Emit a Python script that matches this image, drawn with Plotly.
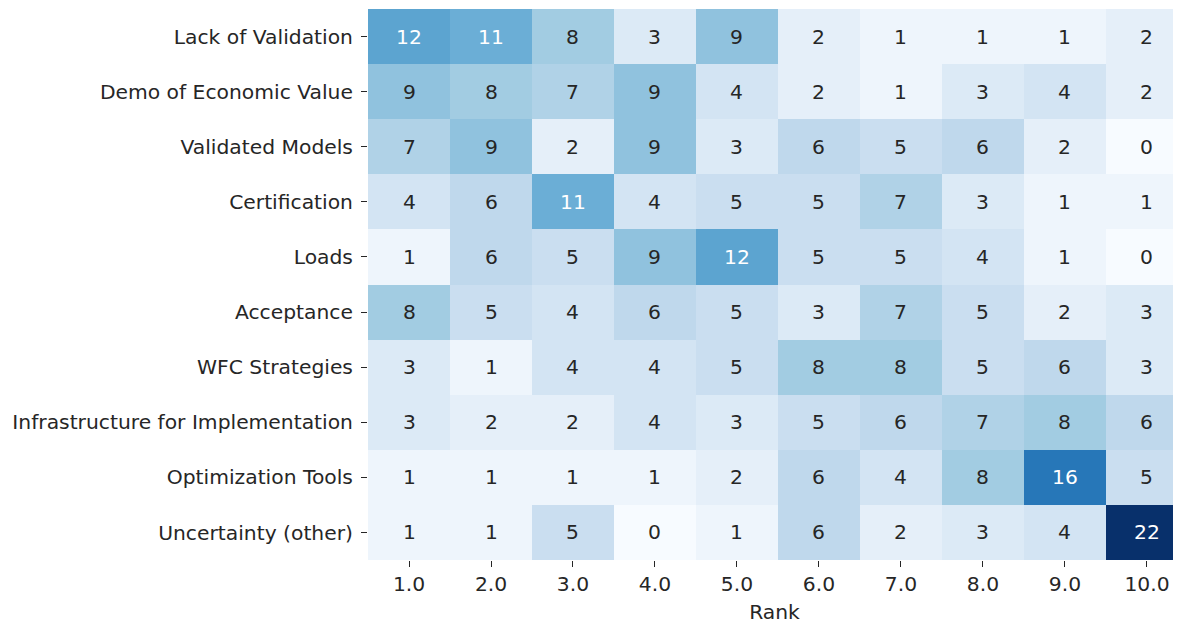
import plotly.graph_objects as go

categories = ["Lack of Validation", "Demo of Economic Value", "Validated Models",
              "Certification", "Loads", "Acceptance", "WFC Strategies",
              "Infrastructure for Implementation", "Optimization Tools",
              "Uncertainty (other)"]
ranks = [1, 2, 3, 4, 5, 6, 7, 8, 9, 10]
tick_labels = ["1.0", "2.0", "3.0", "4.0", "5.0", "6.0", "7.0", "8.0", "9.0", "10.0"]

counts = [
    [12, 11, 8, 3, 9, 2, 1, 1, 1, 2],
    [9, 8, 7, 9, 4, 2, 1, 3, 4, 2],
    [7, 9, 2, 9, 3, 6, 5, 6, 2, 0],
    [4, 6, 11, 4, 5, 5, 7, 3, 1, 1],
    [1, 6, 5, 9, 12, 5, 5, 4, 1, 0],
    [8, 5, 4, 6, 5, 3, 7, 5, 2, 3],
    [3, 1, 4, 4, 5, 8, 8, 5, 6, 3],
    [3, 2, 2, 4, 3, 5, 6, 7, 8, 6],
    [1, 1, 1, 1, 2, 6, 4, 8, 16, 5],
    [1, 1, 5, 0, 1, 6, 2, 3, 4, 22],
]

blues = ["#f7fbff", "#deebf7", "#c6dbef", "#9ecae1", "#6baed6",
         "#4292c6", "#2171b5", "#08519c", "#08306b"]
colorscale = [[i / (len(blues) - 1), c] for i, c in enumerate(blues)]

FONT = "DejaVu Sans, sans-serif"
FS = 20.3

fig = go.Figure(go.Heatmap(
    z=counts, x=ranks, y=categories,
    colorscale=colorscale, zmin=0, zmax=22,
    showscale=False, hoverinfo="skip",
))

annotations = []
for i, cat in enumerate(categories):
    for j, r in enumerate(ranks):
        v = counts[i][j]
        annotations.append(dict(
            x=r, y=cat, text=str(v), showarrow=False,
            font=dict(family=FONT, size=FS,
                      color="white" if v >= 10.5 else "#262626"),
        ))

fig.update_layout(
    width=1173, height=616,
    margin=dict(l=360, r=0, t=1, b=61),
    paper_bgcolor="white", plot_bgcolor="white",
    font=dict(family=FONT, size=FS, color="#262626"),
    annotations=annotations,
    xaxis=dict(
        range=[0.5, 10.415], tickvals=ranks, ticktext=tick_labels,
        ticks="outside", ticklen=6, tickwidth=1.2, tickcolor="#262626",
        showgrid=False, zeroline=False, showline=False,
        title=dict(text="Rank", standoff=13, font=dict(size=FS)),
        tickfont=dict(size=FS),
    ),
    yaxis=dict(
        autorange="reversed",
        ticks="outside", ticklen=6, tickwidth=1.2, tickcolor="#262626",
        showgrid=False, zeroline=False, showline=False,
        tickfont=dict(size=FS), ticklabelstandoff=4,
    ),
)

fig.write_html("out.html")
